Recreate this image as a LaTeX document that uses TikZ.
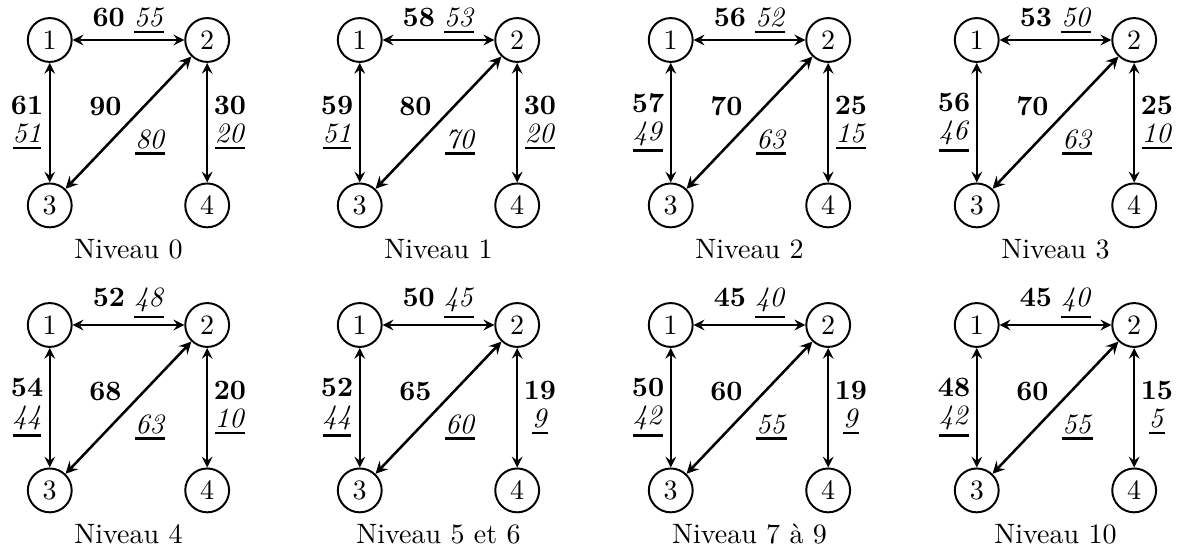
\documentclass[tikz,border=0pt]{standalone}
\usepackage{amsmath, amssymb}
\usepackage{tikz}
\usetikzlibrary{positioning}
\tikzset{sommet/.style={circle,draw,line width=0.7pt,minimum size=0.55cm,inner sep=0pt}}
\tikzset{lien/.style={<->,>=stealth,line width=0.7pt}}
\tikzset{etiq/.style={inner sep=2pt,align=center}}

% valeur soulignee (en italique)
\newcommand{\souligne}[1]{\setbox0\hbox{\itshape #1\/}\vtop{\copy0\kern1.3pt\hrule height 1pt width\wd0}}

% un graphe : niveau, puis les valeurs des aretes 1-2, 1-3, 2-3, 2-4
\newcommand{\graphe}[9]{%
        \node[sommet] (1) at (0,0) {1};
        \node[sommet] (2) [right = 1.4cm of 1] {2};
        \node[sommet] (3) [below = 1.5cm of 1] {3};
        \node[sommet] (4) [below = 1.5cm of 2] {4};

        \draw[lien] (1) -- node[above,etiq] {\textbf{#2}\ \souligne{#3}} (2);
        \draw[lien] (1) -- node[left,etiq] {\textbf{#4}\\[-2pt]\souligne{#5}} (3);
        \draw[lien,line width=0.9pt] (2) -- node[above left,etiq] {\textbf{#6}}
                node[below right,etiq] {\souligne{#7}} (3);
        \draw[lien] (2) -- node[right,etiq] {\textbf{#8}\\[-2pt]\souligne{#9}} (4);

        \path (3) -- coordinate[midway] (m) (4);
        \node (niv) [below = 0.3cm of m] {Niveau #1};
}

\begin{document}
\begin{tikzpicture}[x=0.01255cm,y=-0.01255cm]
        \useasboundingbox (0,0) rectangle (1182,551);

        \begin{scope}[shift={(49.75,40)}]
                \graphe{0}{60}{55}{61}{51}{90}{80}{30}{20}
        \end{scope}
        \begin{scope}[shift={(359.75,40)}]
                \graphe{1}{58}{53}{59}{51}{80}{70}{30}{20}
        \end{scope}
        \begin{scope}[shift={(670.75,40)}]
                \graphe{2}{56}{52}{57}{49}{70}{63}{25}{15}
        \end{scope}
        \begin{scope}[shift={(976.75,40)}]
                \graphe{3}{53}{50}{56}{46}{70}{63}{25}{10}
        \end{scope}

        \begin{scope}[shift={(49.75,325)}]
                \graphe{4}{52}{48}{54}{44}{68}{63}{20}{10}
        \end{scope}
        \begin{scope}[shift={(359.75,325)}]
                \graphe{5 et 6}{50}{45}{52}{44}{65}{60}{19}{9}
        \end{scope}
        \begin{scope}[shift={(670.75,325)}]
                \graphe{7 à 9}{45}{40}{50}{42}{60}{55}{19}{9}
        \end{scope}
        \begin{scope}[shift={(976.75,325)}]
                \graphe{10}{45}{40}{48}{42}{60}{55}{15}{5}
        \end{scope}
\end{tikzpicture}
\end{document}
